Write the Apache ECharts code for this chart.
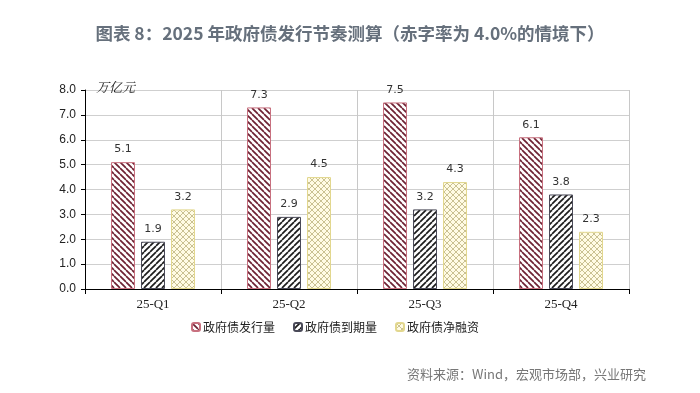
<!DOCTYPE html>
<html><head><meta charset="utf-8">
<script src="https://cdn.jsdelivr.net/npm/echarts@6/dist/echarts.min.js"></script>
<style>html,body{margin:0;padding:0;background:#fff}#c{width:700px;height:393px}</style>
</head><body><div id="c"></div>
<script>
const categories = ['25-Q1', '25-Q2', '25-Q3', '25-Q4'];
const issuance = [5.1, 7.3, 7.5, 6.1];
const maturity = [1.9, 2.9, 3.2, 3.8];
const netFinancing = [3.2, 4.5, 4.3, 2.3];
const seriesNames = ['政府债发行量', '政府债到期量', '政府债净融资'];
const yTicks = [0, 1, 2, 3, 4, 5, 6, 7, 8];

function pattern(kind, fg, bg, lw) {
  const s = 6;
  const cv = document.createElement('canvas');
  cv.width = s; cv.height = s;
  const g = cv.getContext('2d');
  g.fillStyle = bg; g.fillRect(0, 0, s, s);
  g.strokeStyle = fg; g.lineWidth = lw;
  const dirs = kind === 'cross' ? ['back', 'fwd'] : [kind];
  dirs.forEach(d => {
    for (let k = -s; k <= s; k += s) {
      g.beginPath();
      if (d === 'back') { g.moveTo(k, 0); g.lineTo(k + s, s); }
      else { g.moveTo(k, s); g.lineTo(k + s, 0); }
      g.stroke();
    }
  });
  return { image: cv, repeat: 'repeat' };
}

const styles = [
  { color: pattern('back', '#6e2233', '#ffffff', 1.7), borderColor: '#c8707f' },
  { color: pattern('fwd', '#1c1c1c', '#ffffff', 1.7), borderColor: '#4a4a58' },
  { color: pattern('cross', '#bdb37c', '#fffbe4', 0.8), borderColor: '#e2d78e' }
];
const datas = [issuance, maturity, netFinancing];

const chart = echarts.init(document.getElementById('c'));
chart.setOption({
  animation: false,
  title: [
    { text: '图表 8：2025 年政府债发行节奏测算（赤字率为 4.0%的情境下）', left: 'center', top: 20,
      textStyle: { fontFamily: 'Noto Sans CJK SC', fontSize: 17.5, fontWeight: 'bold', color: '#66707c' } },
    { text: '万亿元', left: 91, top: 76,
      textStyle: { fontFamily: 'Noto Serif CJK SC, Noto Sans CJK SC', fontSize: 13, fontWeight: 'normal', fontStyle: 'italic', color: '#222' } },
    { text: '资料来源：Wind，宏观市场部，兴业研究', left: 402, top: 363,
      textStyle: { fontFamily: 'Noto Sans CJK SC', fontSize: 13, fontWeight: 'normal', color: '#777' } }
  ],
  legend: {
    left: 186, top: 316, itemWidth: 8, itemHeight: 8, itemGap: 18,
    textStyle: { fontFamily: 'Noto Sans CJK SC', fontSize: 12, color: '#222', padding: [0, 0, 0, -2] },
    data: seriesNames
  },
  grid: { left: 85, right: 71, top: 90, bottom: 104 },
  xAxis: {
    type: 'category', data: categories,
    axisLine: { lineStyle: { color: '#000', width: 1 } },
    axisTick: { show: true, length: 5, lineStyle: { color: '#000' } },
    axisLabel: { fontFamily: 'Liberation Serif', fontSize: 13, color: '#222', margin: 9 },
    splitLine: { show: true, lineStyle: { color: '#c8c8c8', width: 1 } }
  },
  yAxis: {
    type: 'value', min: yTicks[0], max: yTicks[yTicks.length - 1], interval: 1,
    axisLine: { show: true, lineStyle: { color: '#000', width: 1 } },
    axisTick: { show: true, length: 4, lineStyle: { color: '#000' } },
    axisLabel: { fontFamily: 'Liberation Sans Narrow, Liberation Sans', fontSize: 12, color: '#222', margin: 9,
      formatter: v => v.toFixed(1) },
    splitLine: { show: true, lineStyle: { color: '#cfcfcf', width: 1 } }
  },
  series: seriesNames.map((n, i) => ({
    name: n, type: 'bar', data: datas[i], barWidth: 24, barGap: '25%',
    itemStyle: { color: styles[i].color, borderColor: styles[i].borderColor, borderWidth: 1 },
    label: { show: true, position: 'top', distance: 7, fontFamily: 'DejaVu Sans', fontSize: 11, color: '#333',
      formatter: p => p.value.toFixed(1) }
  }))
});
</script></body></html>
